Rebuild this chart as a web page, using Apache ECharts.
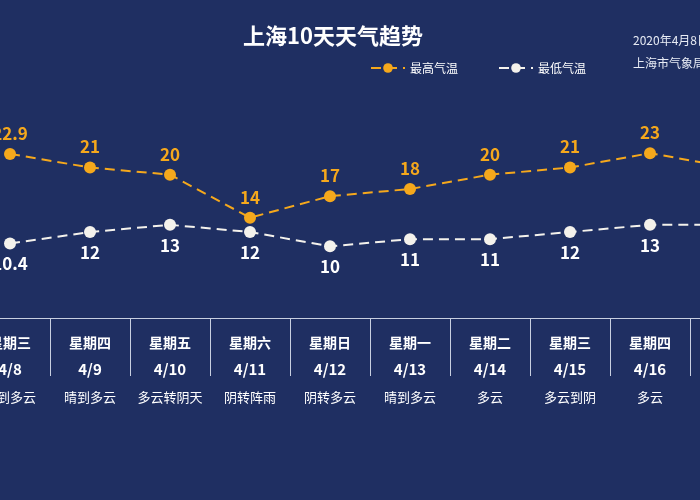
<!DOCTYPE html>
<html><head><meta charset="utf-8">
<script src="https://cdn.jsdelivr.net/npm/echarts@6/dist/echarts.min.js"></script>
<style>html,body{margin:0;padding:0;background:#1f2f62;overflow:hidden;width:700px;height:500px;}#main{width:810px;height:500px;margin-left:-40px;}</style>
</head><body><div id="main"></div>
<script>
var weekDays = ['星期三','星期四','星期五','星期六','星期日','星期一','星期二','星期三','星期四','星期五'];
var dates = ['4/8','4/9','4/10','4/11','4/12','4/13','4/14','4/15','4/16','4/17'];
var weather = ['晴到多云','晴到多云','多云转阴天','阴转阵雨','阴转多云','晴到多云','多云','多云到阴','多云','多云'];
var highTemp = [22.9, 21, 20, 14, 17, 18, 20, 21, 23, 21];
var lowTemp = [10.4, 12, 13, 12, 10, 11, 11, 12, 13, 13];

// 画布比窗口宽, 左移40px, 两端的列被裁掉一半
var shift = 40;
var chart = echarts.init(document.getElementById('main'));
var font = '"Noto Sans CJK SC", sans-serif';
chart.setOption({
    backgroundColor: '#1f2f62',
    title: [
        {text: '上海10天天气趋势', left: 328 + shift, top: 20, textAlign: 'center',
         textStyle: {color: '#fff', fontSize: 22, fontWeight: 'bold', fontFamily: font}},
        {text: '2020年4月8日\n上海市气象局', left: 628 + shift, top: 24,
         textStyle: {color: '#e8ecf5', fontSize: 12, fontWeight: 'normal', fontFamily: font, lineHeight: 23}}
    ],
    legend: {
        left: 365 + shift, top: 57, itemGap: 40, itemWidth: 34, itemHeight: 12,
        textStyle: {color: '#fff', fontSize: 12, fontFamily: font},
        data: ['最高气温', '最低气温']
    },
    grid: {left: 10, right: 0, top: 60, bottom: 182},
    xAxis: {
        type: 'category', data: dates, boundaryGap: true,
        axisLine: {lineStyle: {color: '#c8cfe0', width: 1}},
        axisTick: {show: true, length: 58, lineStyle: {color: '#c8cfe0'}},
        axisLabel: {
            interval: 0, margin: 12,
            formatter: function (v, i) {
                return '{w|' + weekDays[i] + '}\n{d|' + v + '}\n{t|' + weather[i] + '}';
            },
            rich: {
                w: {color: '#fff', fontSize: 14, fontWeight: 'bold', fontFamily: font, lineHeight: 26},
                d: {color: '#fff', fontSize: 15, fontWeight: 'bold', fontFamily: font, lineHeight: 26},
                t: {color: '#fff', fontSize: 13, fontFamily: font, lineHeight: 30}
            }
        }
    },
    yAxis: {type: 'value', min: 0, max: 36, show: false, splitLine: {show: false}},
    series: [
        {
            name: '最高气温', type: 'line', data: highTemp,
            symbol: 'circle', symbolSize: 12,
            itemStyle: {color: '#f5a81c'},
            lineStyle: {color: '#f5a81c', width: 2, type: [10, 6]},
            label: {show: true, position: 'top', distance: 6, color: '#f5a81c', fontSize: 17, fontWeight: 'bold', fontFamily: font}
        },
        {
            name: '最低气温', type: 'line', data: lowTemp,
            symbol: 'circle', symbolSize: 12,
            itemStyle: {color: '#f4f2ec'},
            lineStyle: {color: '#f4f2ec', width: 2, type: [10, 6]},
            label: {show: true, position: 'bottom', distance: 6, color: '#fff', fontSize: 17, fontWeight: 'bold', fontFamily: font}
        }
    ]
});
</script></body></html>
